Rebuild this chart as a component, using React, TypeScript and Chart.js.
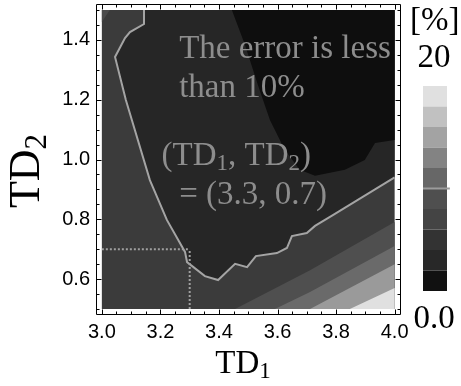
import React, { useEffect, useRef } from "react";
import { Chart, registerables } from "chart.js";

Chart.register(...registerables);

type Pt = [number, number];

// ---------- data ----------
const xTickValues = [3.0, 3.2, 3.4, 3.6, 3.8, 4.0];
const yTickValues = [0.6, 0.8, 1.0, 1.2, 1.4];
const xDomain: Pt = [3.0, 4.0];
const yDomain: Pt = [0.5, 1.5];

// 10 % error contour (grey line)
const tenPercentContour: Pt[] = [
  [3.144, 1.5], [3.144, 1.453], [3.096, 1.426], [3.079, 1.406], [3.045, 1.343],
  [3.082, 1.199], [3.164, 0.931], [3.222, 0.798], [3.284, 0.691], [3.291, 0.657],
  [3.352, 0.61], [3.397, 0.597], [3.455, 0.651], [3.496, 0.64], [3.526, 0.677],
  [3.598, 0.687], [3.632, 0.704], [3.649, 0.744], [3.7, 0.754], [3.728, 0.778],
  [3.789, 0.814], [4.0, 0.94],
];

// lowest error band (0-2 %) boundary, top-right
const lowestBandEdge: Pt[] = [
  [3.444, 1.5], [3.489, 1.383], [3.533, 1.249], [3.574, 1.132], [3.625, 1.032],
  [3.676, 0.966], [3.728, 0.946], [3.83, 0.966], [3.898, 0.998], [3.933, 1.055],
  [4.0, 1.065],
];

// higher error bands, bottom-right
const bandEdge1: Pt[] = [[3.455, 0.5], [3.711, 0.63], [4.0, 0.791]];
const bandEdge2: Pt[] = [[3.591, 0.5], [3.711, 0.557], [4.0, 0.711]];
const bandEdge3: Pt[] = [[3.711, 0.5], [4.0, 0.65]];
const bandEdge4: Pt[] = [[3.847, 0.5], [4.0, 0.57]];

// small lighter patch at top-left corner
const cornerPatch: Pt[] = [[3.0, 1.5], [3.027, 1.5], [3.0, 1.46]];

const optimumPoint: Pt = [3.3, 0.7];

// colour bar
const colorbarLevels = [0, 2, 4, 6, 8, 10, 12, 14, 16, 18, 20];
const colorbarColors = [
  "#111111", "#282828", "#333333", "#444444", "#4f4f4f",
  "#676767", "#838383", "#a3a3a3", "#c1c1c1", "#e0e0e0",
];
const colorbarMarkerLevel = 10;

// ---------- helpers ----------
const SERIF = '"Liberation Serif", "Times New Roman", serif';
const SANS = '"Liberation Sans", Arial, sans-serif';

const toXY = (pts: Pt[]) => pts.map(([x, y]) => ({ x, y }));

const region = (pts: Pt[], color: string, order: number) => ({
  type: "line" as const,
  data: toXY(pts),
  fill: "shape" as any,
  backgroundColor: color,
  borderColor: "rgba(0,0,0,0)",
  borderWidth: 0,
  pointRadius: 0,
  tension: 0,
  order,
});

type Part = { t: string; sub?: boolean };

function drawRich(
  ctx: CanvasRenderingContext2D,
  parts: Part[],
  x: number,
  y: number,
  size: number,
  align: "left" | "center"
) {
  const subSize = Math.round(size * 0.7);
  const widths = parts.map((p) => {
    ctx.font = `${p.sub ? subSize : size}px ${SERIF}`;
    return ctx.measureText(p.t).width;
  });
  const total = widths.reduce((a, b) => a + b, 0);
  let cx = align === "center" ? x - total / 2 : x;
  ctx.textAlign = "left";
  ctx.textBaseline = "alphabetic";
  parts.forEach((p, i) => {
    ctx.font = `${p.sub ? subSize : size}px ${SERIF}`;
    ctx.fillText(p.t, cx, p.sub ? y + size * 0.16 : y);
    cx += widths[i];
  });
}

const framePlugin = {
  id: "frameTicks",
  afterDatasetsDraw(chart: any) {
    const { ctx, chartArea: a, scales } = chart;
    const x = scales.x;
    const y = scales.y;
    ctx.save();
    ctx.strokeStyle = "#000";
    ctx.lineWidth = 1;
    const L = Math.round(a.left) + 0.5;
    const R = Math.round(a.right) - 0.5;
    const T = Math.round(a.top) + 0.5;
    const B = Math.round(a.bottom) - 0.5;
    ctx.beginPath();
    ctx.rect(L, T, R - L, B - T);
    for (let k = 0; k <= 20; k++) {
      const v = xDomain[0] + k * 0.05;
      const px = Math.round(x.getPixelForValue(v)) + 0.5;
      const len = k % 4 === 0 ? 5 : 3;
      ctx.moveTo(px, B);
      ctx.lineTo(px, B - len);
      ctx.moveTo(px, T);
      ctx.lineTo(px, T + len);
    }
    for (let k = 0; k <= 20; k++) {
      const v = yDomain[0] + k * 0.05;
      const py = Math.round(y.getPixelForValue(v)) + 0.5;
      const len = (k - 2) % 4 === 0 ? 5 : 3;
      ctx.moveTo(L, py);
      ctx.lineTo(L + len, py);
      ctx.moveTo(R, py);
      ctx.lineTo(R - len, py);
    }
    ctx.stroke();
    ctx.restore();
  },
};

const textPlugin = {
  id: "texts",
  afterDraw(chart: any) {
    const { ctx, scales } = chart;
    const x = scales.x;
    const y = scales.y;
    ctx.save();
    // annotations inside plot
    ctx.fillStyle = "#8d8d8d";
    const ax = (v: number) => x.getPixelForValue(v);
    const ay = (v: number) => y.getPixelForValue(v);
    drawRich(ctx, [{ t: "The error is less" }], ax(3.264), ay(1.339), 33, "left");
    drawRich(ctx, [{ t: "than 10%" }], ax(3.264), ay(1.209), 33, "left");
    drawRich(
      ctx,
      [{ t: "(TD" }, { t: "1", sub: true }, { t: ", TD" }, { t: "2", sub: true }, { t: ")" }],
      ax(3.204),
      ay(0.982),
      33,
      "left"
    );
    drawRich(
      ctx,
      [{ t: `= (${optimumPoint[0].toFixed(1)}, ${optimumPoint[1].toFixed(1)})` }],
      ax(3.264),
      ay(0.851),
      33,
      "left"
    );

    // axis titles
    ctx.fillStyle = "#000";
    drawRich(ctx, [{ t: "TD" }, { t: "1", sub: true }], 243, 373, 33, "center");
    ctx.save();
    ctx.translate(39, 171);
    ctx.rotate(-Math.PI / 2);
    drawRich(ctx, [{ t: "TD" }, { t: "2", sub: true }], 0, 0, 44, "center");
    ctx.restore();

    // colour bar labels
    drawRich(ctx, [{ t: "[%]" }], 410, 30, 33, "left");
    drawRich(ctx, [{ t: String(colorbarLevels[colorbarLevels.length - 1]) }], 434, 67, 33, "center");
    drawRich(ctx, [{ t: colorbarLevels[0].toFixed(1) }], 434, 328, 33, "center");
    ctx.restore();
  },
};

export default function App() {
  const mainRef = useRef<HTMLCanvasElement | null>(null);
  const barRef = useRef<HTMLCanvasElement | null>(null);

  useEffect(() => {
    if (!mainRef.current || !barRef.current) return;
    const [x0, x1] = xDomain;
    const [y0, y1] = yDomain;
    const pad = 0.02;
    const rect: Pt[] = [[x0, y0], [x1, y0], [x1, y1], [x0, y1]];
    const corner = (edge: Pt[], c: Pt): Pt[] => [...edge, c];

    const datasets: any[] = [
      region(rect, "#3b3b3b", 20),
      region(cornerPatch, "#4b4b4b", 19),
      region(corner(tenPercentContour, [x1, y1]), "#262626", 18),
      region(corner(lowestBandEdge, [x1, y1]), "#0e0e0e", 17),
      region(corner(bandEdge1, [x1, y0]), "#4f4f4f", 16),
      region(corner(bandEdge2, [x1, y0]), "#6a6a6a", 15),
      region(corner(bandEdge3, [x1, y0]), "#9a9a9a", 14),
      region(corner(bandEdge4, [x1, y0]), "#e0e0e0", 13),
      {
        type: "line",
        data: toXY(tenPercentContour),
        fill: false,
        borderColor: "#a4a4a4",
        borderWidth: 2,
        pointRadius: 0,
        tension: 0,
        order: 2,
      },
      {
        type: "line",
        data: toXY([[x0, optimumPoint[1]], optimumPoint]),
        fill: false,
        borderColor: "#a0a0a0",
        borderWidth: 2,
        borderDash: [2, 2],
        pointRadius: 0,
        order: 1,
      },
      {
        type: "line",
        data: toXY([[optimumPoint[0], y0], optimumPoint]),
        fill: false,
        borderColor: "#a0a0a0",
        borderWidth: 2,
        borderDash: [2, 2],
        pointRadius: 0,
        order: 1,
      },
    ];

    const tickFont = { family: SANS, size: 20 };
    const main = new Chart(mainRef.current, {
      type: "line",
      data: { datasets },
      options: {
        animation: false,
        responsive: false,
        events: [],
        layout: { padding: { left: 0, top: 4, right: 60.5, bottom: 0 } },
        plugins: { legend: { display: false }, tooltip: { enabled: false } },
        scales: {
          x: {
            type: "linear",
            min: x0 - pad * (x1 - x0),
            max: x1 + pad * (x1 - x0),
            grid: { display: false, drawTicks: false },
            border: { display: false },
            ticks: {
              font: tickFont,
              color: "#000",
              padding: 5,
              maxRotation: 0,
              callback: (v: any) => Number(v).toFixed(1),
            },
            afterBuildTicks: (s: any) => {
              s.ticks = xTickValues.map((v) => ({ value: v }));
            },
            afterFit: (s: any) => {
              s.height = 71;
              s.paddingLeft = 0;
              s.paddingRight = 0;
              s.paddingTop = 0;
              s.paddingBottom = 0;
            },
          },
          y: {
            type: "linear",
            min: y0 - pad * (y1 - y0),
            max: y1 + pad * (y1 - y0),
            grid: { display: false, drawTicks: false },
            border: { display: false },
            ticks: {
              font: tickFont,
              color: "#000",
              padding: 6,
              callback: (v: any) => Number(v).toFixed(1),
            },
            afterBuildTicks: (s: any) => {
              s.ticks = yTickValues.map((v) => ({ value: v }));
            },
            afterFit: (s: any) => {
              s.width = 96;
              s.paddingLeft = 0;
              s.paddingRight = 0;
              s.paddingTop = 0;
              s.paddingBottom = 0;
            },
          },
        },
      },
      plugins: [framePlugin, textPlugin],
    } as any);

    // colour bar
    const barSets: any[] = colorbarColors.map((c, i) => {
      const lo = colorbarLevels[i];
      const hi = colorbarLevels[i + 1];
      return {
        type: "line",
        data: toXY([[0, lo], [1, lo], [1, hi], [0, hi]]),
        fill: "shape",
        backgroundColor: c,
        borderColor: "rgba(0,0,0,0)",
        borderWidth: 0,
        pointRadius: 0,
        tension: 0,
        order: 5,
      };
    });
    barSets.push({
      type: "line",
      data: toXY([[0, colorbarMarkerLevel], [1.12, colorbarMarkerLevel]]),
      fill: false,
      borderColor: "#9c9c9c",
      borderWidth: 2,
      pointRadius: 0,
      order: 0,
    });
    const bar = new Chart(barRef.current, {
      type: "line",
      data: { datasets: barSets },
      options: {
        animation: false,
        responsive: false,
        events: [],
        layout: { padding: 0 },
        plugins: { legend: { display: false }, tooltip: { enabled: false } },
        scales: {
          x: { type: "linear", min: 0, max: 1.25, display: false },
          y: { type: "linear", min: colorbarLevels[0], max: colorbarLevels[colorbarLevels.length - 1], display: false },
        },
      },
    } as any);

    return () => {
      main.destroy();
      bar.destroy();
    };
  }, []);

  return (
    <div
      style={{
        position: "fixed",
        left: 0,
        top: 0,
        width: 461,
        height: 386,
        background: "#fff",
        overflow: "hidden",
      }}
    >
      <canvas
        ref={mainRef}
        width={461}
        height={386}
        style={{ position: "absolute", left: 0, top: 0, width: 461, height: 386 }}
      />
      <canvas
        ref={barRef}
        width={30}
        height={205}
        style={{ position: "absolute", left: 423, top: 86, width: 30, height: 205 }}
      />
    </div>
  );
}
